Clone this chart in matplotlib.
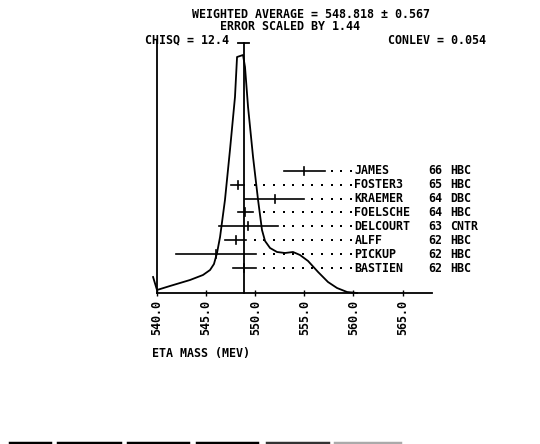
import matplotlib
matplotlib.use("Agg")
import matplotlib.pyplot as plt
from matplotlib.lines import Line2D
import numpy as np

# measurements (MeV)
names = ["JAMES", "FOSTER3", "KRAEMER", "FOELSCHE", "DELCOURT", "ALFF", "PICKUP", "BASTIEN"]
years = ["66", "65", "64", "64", "63", "62", "62", "62"]
techn = ["HBC", "HBC", "DBC", "HBC", "CNTR", "HBC", "HBC", "HBC"]
mass = [555.0, 548.2, 552.0, 549.0, 549.3, 548.0, 546.0, 548.9]
err = [2.1, 0.66, 3.0, 0.8, 3.0, 1.05, 4.05, 1.2]

avg = 548.818
avg_err = 0.567
scale = 1.44
chisq = 12.4
conlev = 0.054

# ideogram curve (mass, arbitrary height)
curve_m = [539.6, 540.0, 541.32, 543.36, 544.68, 545.40, 545.80, 546.11, 546.42,
           546.92, 547.43, 547.94, 548.15, 548.76, 548.96, 549.27, 549.78, 550.29,
           550.69, 551.00, 551.51, 552.22, 553.03, 553.85, 554.56, 555.38, 556.40,
           557.41, 558.33, 559.35, 560.37]
curve_h = [16, 3, 7, 13, 18, 23, 29, 40, 56,
           93, 143, 196, 236, 238, 226, 186, 136, 93,
           63, 52, 45, 41, 40, 41, 38, 32, 21,
           11, 5, 1, 0]

W, H = 540, 444
fig = plt.figure(figsize=(W / 100, H / 100), dpi=100)
ax = fig.add_axes([157 / W, 1 - 293 / H, (432 - 157) / W, (293 - 40) / H])
ax.set_xlim(540, 568)
ax.set_ylim(0, 253)

font = dict(family="DejaVu Sans Mono", weight="bold", size=8.4, color="black")

ax.plot(curve_m, curve_h, color="black", lw=1.3, clip_on=False)

# weighted average line with its error cap
ax.plot([avg, avg], [0, 250], color="black", lw=1.3, clip_on=False)
ax.plot([avg - avg_err, avg + avg_err], [250, 250], color="black", lw=1.3, clip_on=False)

label_x = 559.75
n = len(names)
for i in range(n):
    y = 25 + 13.9 * (n - 1 - i)
    lo, hi = mass[i] - err[i], mass[i] + err[i]
    ax.plot([lo, hi], [y, y], color="black", lw=1.2, clip_on=False)
    ax.plot([mass[i], mass[i]], [y - 4, y + 4], color="black", lw=1.2, clip_on=False)
    dots = np.arange(label_x, hi + 0.4, -0.98)
    ax.plot(dots, [y] * len(dots), ls="none", marker="s", ms=1.6, mew=0,
            color="black", clip_on=False)
    ax.text(560.1, y, names[i], ha="left", va="center", clip_on=False, **font)
    ax.text(567.6, y, years[i], ha="left", va="center", clip_on=False, **font)
    ax.text(569.85, y, techn[i], ha="left", va="center", clip_on=False, **font)

for s in ["top", "right"]:
    ax.spines[s].set_visible(False)
for s in ["left", "bottom"]:
    ax.spines[s].set_linewidth(1.3)
ax.set_yticks([])
ticks = np.arange(540, 566, 5)
ax.set_xticks(ticks)
ax.set_xticklabels(["%.1f" % t for t in ticks], rotation=90, fontdict=font)
ax.tick_params(axis="x", direction="inout", length=4, width=1, pad=3)

fig.text(192 / W, 1 - 15 / H, "WEIGHTED AVERAGE = %.3f \u00b1 %.3f" % (avg, avg_err),
         ha="left", va="center", **font)
fig.text(220 / W, 1 - 27 / H, "ERROR SCALED BY %.2f" % scale, ha="left", va="center", **font)
fig.text(145 / W, 1 - 40 / H, "CHISQ = %.1f" % chisq, ha="left", va="center", **font)
fig.text(388 / W, 1 - 40 / H, "CONLEV = %.3f" % conlev, ha="left", va="center", **font)
fig.text(152 / W, 1 - 353 / H, "ETA MASS (MEV)", ha="left", va="center", **font)

# clipped row of text along the bottom edge
for x0, x1, c in [(10, 50, "black"), (58, 120, "black"), (128, 188, "black"),
                  (197, 257, "black"), (267, 328, "#333333"), (335, 400, "#aaaaaa")]:
    fig.add_artist(Line2D([x0 / W, x1 / W], [1 - 442.5 / H] * 2, lw=2.5, color=c,
                          transform=fig.transFigure))

fig.savefig("out.png", dpi=100, facecolor="white")
